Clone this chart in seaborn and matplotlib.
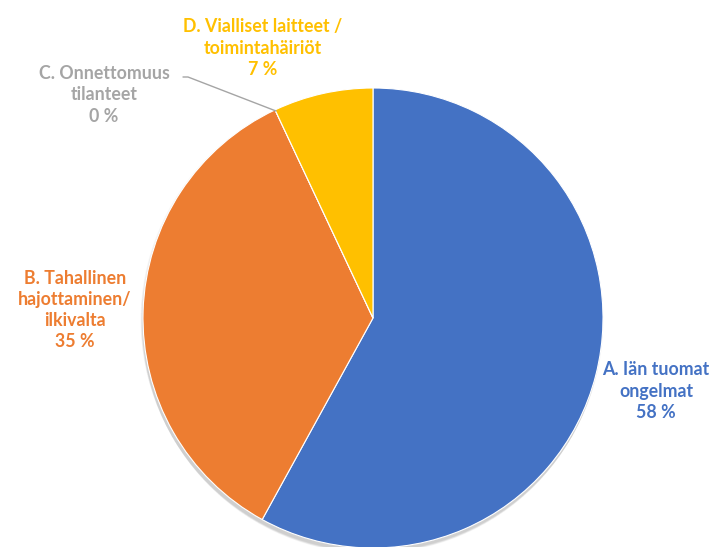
import matplotlib
matplotlib.use("Agg")
import matplotlib.pyplot as plt
from matplotlib.patches import Circle
import seaborn as sns

# Categories, shares (%) and their display colours
categories = ["A. Iän tuomat\nongelmat", "B. Tahallinen\nhajottaminen/\nilkivalta",
              "C. Onnettomuus\ntilanteet", "D. Vialliset laitteet /\ntoimintahäiriöt"]
shares = [58, 35, 0, 7]
colors = ["#4472C4", "#ED7D31", "#A5A5A5", "#FFC000"]

sns.set_theme(style="white")
plt.rcParams["font.family"] = ["Lato", "DejaVu Sans"]

W, H = 722, 547
fig = plt.figure(figsize=(W / 100, H / 100), dpi=100)
ax = fig.add_axes([0, 0, 1, 1])
ax.set_xlim(0, W)
ax.set_ylim(0, H)
ax.set_aspect("equal")
ax.axis("off")

cx, cy, r = 373, H - 318, 230

# soft drop shadow under the pie
for i in range(8):
    ax.add_patch(Circle((cx - 1, cy - 2 - i * 0.6), r + 1.5 - i * 0.3,
                        color="black", alpha=0.025, lw=0, zorder=0))

ax.pie(shares, colors=colors, startangle=90, counterclock=False,
       center=(cx, cy), radius=r, frame=True,
       wedgeprops=dict(edgecolor="white", linewidth=0.8))
ax.set_xlim(0, W)
ax.set_ylim(0, H)
ax.axis("off")

# label anchor points (pixel coords from top-left)
label_pos = [(656, 391), (75, 310), (104, 95), (263, 48)]
for name, val, col, (px, py) in zip(categories, shares, colors, label_pos):
    ax.text(px, H - py, f"{name}\n{val} %", color=col, ha="center", va="center",
            fontsize=12.8, fontweight="bold", linespacing=1.3)

# leader line for the zero-sized slice
ax.plot([183, 188, 276], [H - 77, H - 77, H - 111], color="#A5A5A5", lw=1)

fig.savefig("out.png", dpi=100)
